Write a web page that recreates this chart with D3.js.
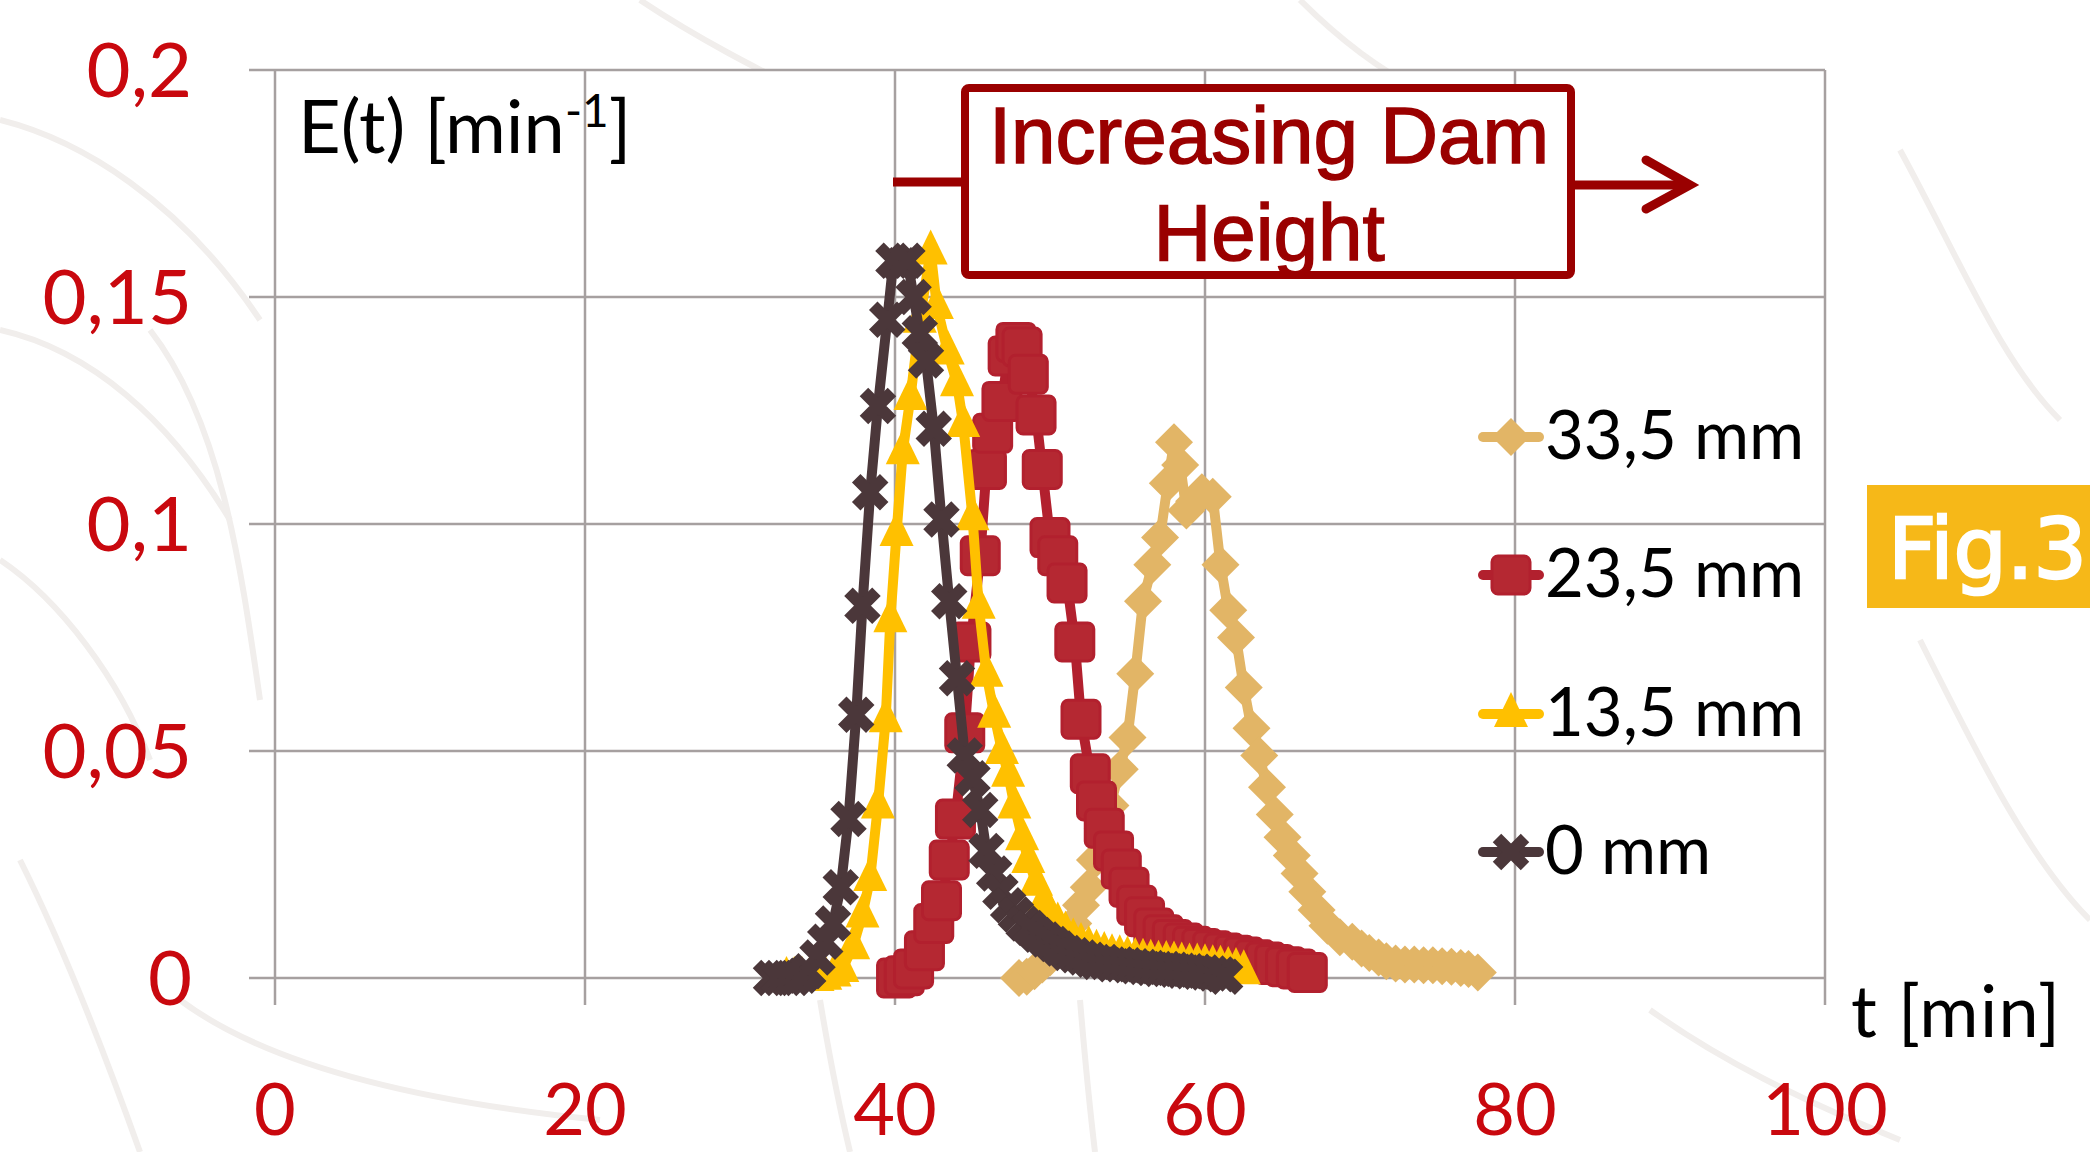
<!DOCTYPE html>
<html><head><meta charset="utf-8">
<script src="https://cdn.jsdelivr.net/npm/d3@7"></script>
<style>html,body{margin:0;padding:0;background:#fff;} svg{display:block}</style>
</head><body>
<svg id="chart" width="2090" height="1152"></svg>
<script>
// ---------- data ----------
const xTicks = [0, 20, 40, 60, 80, 100];
const xTickLabels = ["0", "20", "40", "60", "80", "100"];
const yTicks = [0, 0.05, 0.1, 0.15, 0.2];
const yTickLabels = ["0", "0,05", "0,1", "0,15", "0,2"];
const seriesNames = ["33,5 mm", "23,5 mm", "13,5 mm", "0 mm"];
const seriesColors = ["#E2B566", "#B2202E", "#FFC000", "#4B373A"];
const seriesMarkers = ["diamond", "square", "triangle", "x"];

const data33_5 = [[48.0,0],[48.5,0.0003],[49.0,0.0015],[49.5,0.003],[50.0,0.0045],[50.5,0.0065],[51.0,0.009],[51.5,0.012],[52.0,0.016],[52.5,0.020],[52.9,0.026],[53.4,0.033],[53.9,0.038],[54.5,0.046],[55.0,0.053],[55.5,0.067],[56.0,0.083],[56.6,0.091],[57.1,0.097],[57.6,0.109],[58.0,0.118],[58.4,0.113],[58.8,0.103],[59.3,0.105],[59.8,0.107],[60.5,0.106],[61.0,0.091],[61.5,0.081],[62.0,0.075],[62.5,0.064],[63.0,0.055],[63.5,0.049],[64.0,0.042],[64.5,0.036],[65.0,0.031],[65.6,0.027],[66.1,0.023],[66.6,0.019],[67.2,0.015],[67.9,0.0115],[68.7,0.009],[69.5,0.008],[70.1,0.0065],[70.6,0.0055],[71.2,0.0045],[71.7,0.0037],[72.3,0.0032],[72.9,0.003],[73.5,0.003],[74.1,0.0028],[74.7,0.0028],[75.3,0.0026],[75.9,0.0025],[76.5,0.0022],[77.0,0.002],[77.6,0.0012]];
const data23_5 = [[40.1,0],[40.6,0.0005],[41.2,0.002],[41.9,0.006],[42.5,0.012],[43.0,0.017],[43.5,0.026],[43.9,0.035],[44.5,0.054],[44.9,0.074],[45.5,0.093],[45.9,0.112],[46.3,0.120],[46.9,0.127],[47.3,0.137],[47.8,0.140],[48.2,0.139],[48.6,0.133],[49.1,0.124],[49.5,0.112],[50.0,0.097],[50.5,0.093],[51.1,0.087],[51.6,0.074],[52.0,0.057],[52.6,0.045],[53.0,0.039],[53.5,0.033],[54.1,0.028],[54.6,0.024],[55.1,0.020],[55.6,0.016],[56.1,0.0135],[56.7,0.011],[57.3,0.0095],[57.9,0.0085],[58.6,0.0077],[59.2,0.007],[59.8,0.0065],[60.5,0.006],[61.2,0.0055],[61.9,0.005],[62.5,0.0046],[63.2,0.004],[63.9,0.0035],[64.5,0.003],[65.2,0.0025],[65.9,0.002],[66.6,0.0012]];
const data13_5 = [[33.0,0],[33.5,0],[34.0,0],[34.5,0],[35.0,0],[35.5,0.0003],[36.1,0.001],[36.6,0.002],[37.3,0.007],[37.9,0.014],[38.4,0.022],[38.9,0.038],[39.4,0.057],[39.7,0.079],[40.1,0.098],[40.5,0.116],[41.0,0.128],[41.6,0.145],[42.3,0.160],[42.7,0.148],[43.4,0.138],[44.0,0.131],[44.4,0.122],[45.0,0.1015],[45.4,0.082],[45.9,0.067],[46.4,0.058],[46.9,0.050],[47.3,0.045],[47.7,0.038],[48.2,0.031],[48.6,0.026],[49.1,0.021],[49.6,0.017],[50.0,0.014],[50.5,0.012],[51.0,0.010],[51.5,0.0085],[52.0,0.0075],[52.5,0.0068],[53.0,0.006],[53.5,0.0055],[54.0,0.005],[54.5,0.0048],[55.0,0.0045],[55.5,0.0042],[56.0,0.004],[56.5,0.0038],[57.0,0.0036],[57.5,0.0035],[58.0,0.0034],[58.5,0.0032],[59.0,0.003],[59.5,0.003],[60.0,0.0028],[60.5,0.0026],[61.0,0.0025],[61.5,0.0022],[62.0,0.002],[62.5,0.0015]];
const data0 = [[32.0,0],[32.5,0],[33.0,0],[33.5,0],[34.0,0.0005],[34.4,0.0015],[35.0,0.0045],[35.5,0.008],[36.0,0.012],[36.5,0.020],[37.0,0.035],[37.5,0.058],[37.9,0.082],[38.4,0.107],[38.9,0.126],[39.5,0.145],[39.9,0.158],[40.4,0.157],[40.8,0.158],[41.2,0.150],[41.6,0.142],[42.0,0.136],[42.5,0.121],[43.0,0.101],[43.5,0.083],[44.0,0.066],[44.5,0.049],[45.0,0.044],[45.5,0.037],[45.9,0.028],[46.4,0.023],[46.8,0.019],[47.3,0.016],[47.8,0.014],[48.3,0.012],[48.7,0.011],[49.2,0.0095],[49.7,0.0085],[50.2,0.0075],[50.6,0.0065],[51.1,0.0055],[51.6,0.005],[52.1,0.0045],[52.6,0.004],[53.0,0.0035],[53.5,0.0035],[54.0,0.003],[54.5,0.003],[55.0,0.0028],[55.5,0.0026],[56.0,0.0024],[56.5,0.0022],[57.0,0.002],[57.5,0.002],[58.0,0.0018],[58.5,0.0016],[59.0,0.0015],[59.5,0.0014],[60.0,0.0012],[60.5,0.001],[61.0,0.0008],[61.3,0.0003]];
const seriesData = [data33_5, data23_5, data13_5, data0];

const yAxisTitle = "E(t) [min";
const yAxisTitleSup = "-1";
const xAxisTitle = "t [min]";
const annotationLines = ["Increasing Dam", "Height"];
const badgeText = "Fig.3";

// ---------- drawing ----------
const svg = d3.select("#chart");
const x = d3.scaleLinear().domain([0, 100]).range([275, 1825]);
const y = d3.scaleLinear().domain([0, 0.2]).range([978, 70]);

// faint background streaks (texture)
const tex = svg.append("g").attr("fill", "none").attr("stroke", "#f1eeec").attr("stroke-width", 6);
[
  "M0,120 C80,140 180,200 260,320",
  "M0,330 C90,350 170,420 230,520",
  "M0,560 C60,600 120,680 150,760",
  "M20,860 C60,940 100,1040 140,1152",
  "M150,330 C220,420 240,560 260,700",
  "M180,1000 C260,1060 400,1100 600,1120",
  "M640,0 C700,40 760,70 800,90",
  "M1300,0 C1340,40 1380,70 1420,90",
  "M1900,150 C1960,260 2000,360 2060,420",
  "M1920,640 C1980,760 2030,860 2090,920",
  "M1650,1010 C1720,1060 1800,1100 1900,1140",
  "M820,1000 C830,1060 840,1110 850,1152",
  "M1080,1000 C1085,1060 1090,1110 1095,1152"
].forEach(d => tex.append("path").attr("d", d));

// plot area
svg.append("rect").attr("x", x(0)).attr("y", y(0.2)).attr("width", x(100) - x(0)).attr("height", y(0) - y(0.2)).attr("fill", "#fff");

const grid = svg.append("g").attr("stroke", "#a6a0a0").attr("stroke-width", 2.5);
yTicks.forEach(v => grid.append("line").attr("x1", x(0) - 26).attr("x2", x(100)).attr("y1", y(v)).attr("y2", y(v)));
xTicks.forEach(v => grid.append("line").attr("x1", x(v)).attr("x2", x(v)).attr("y1", y(0.2)).attr("y2", y(0) + 27));

// tick labels
const labelFont = "Lato, 'Open Sans', sans-serif";
svg.append("g").selectAll("text").data(yTicks).join("text")
  .attr("x", 192).attr("y", d => y(d) + 27).attr("text-anchor", "end")
  .attr("font-family", labelFont).attr("font-size", 76).attr("fill", "#C9080E")
  .text((d, i) => yTickLabels[i]);
svg.append("g").selectAll("text").data(xTicks).join("text")
  .attr("x", d => x(d)).attr("y", 1135).attr("text-anchor", "middle")
  .attr("font-family", labelFont).attr("font-size", 72).attr("fill", "#C9080E")
  .text((d, i) => xTickLabels[i]);

// axis titles
const yt = svg.append("text").attr("x", 298).attr("y", 153).attr("font-family", labelFont).attr("font-size", 74).attr("fill", "#000");
yt.append("tspan").text(yAxisTitle);
yt.append("tspan").attr("font-size", 46).attr("dy", -26).text(yAxisTitleSup);
yt.append("tspan").attr("dy", 26).text("]");
svg.append("text").attr("x", 1851).attr("y", 1037).attr("font-family", labelFont).attr("font-size", 72)
  .attr("textLength", 209).attr("lengthAdjust", "spacing").attr("fill", "#000").text(xAxisTitle);

// markers
function drawMarker(g, type, color) {
  if (type === "diamond") {
    g.append("path").attr("d", "M0,-19L19,0L0,19L-19,0Z").attr("fill", color);
  } else if (type === "square") {
    g.append("rect").attr("x", -19).attr("y", -19).attr("width", 38).attr("height", 38).attr("rx", 6)
      .attr("fill", "#B52832").attr("stroke", color).attr("stroke-width", 3);
  } else if (type === "triangle") {
    g.append("path").attr("d", "M0,-22L17,13L-17,13Z").attr("fill", color);
  } else {
    g.append("path").attr("d", "M-14,-14L14,14M-14,14L14,-14").attr("stroke", color).attr("stroke-width", 12).attr("fill", "none");
  }
}

const line = d3.line().x(d => x(d[0])).y(d => y(d[1]));
seriesData.forEach((data, i) => {
  const g = svg.append("g");
  g.append("path").datum(data).attr("d", line).attr("fill", "none")
    .attr("stroke", seriesColors[i]).attr("stroke-width", 10)
    .attr("stroke-linejoin", "round").attr("stroke-linecap", "round");
  data.forEach(d => {
    const m = g.append("g").attr("transform", `translate(${x(d[0])},${y(d[1])})`);
    drawMarker(m, seriesMarkers[i], seriesColors[i]);
  });
});

// legend
const legendRows = [437, 575, 714, 852];
seriesNames.forEach((name, i) => {
  const g = svg.append("g").attr("transform", `translate(0,${legendRows[i]})`);
  g.append("line").attr("x1", 1483).attr("x2", 1539).attr("y1", 0).attr("y2", 0)
    .attr("stroke", seriesColors[i]).attr("stroke-width", 10).attr("stroke-linecap", "round");
  const m = g.append("g").attr("transform", "translate(1511,0)");
  drawMarker(m, seriesMarkers[i], seriesColors[i]);
  g.append("text").attr("x", 1545).attr("y", 22).attr("font-family", labelFont).attr("font-size", 67)
    .attr("fill", "#000").text(name);
});

// annotation box with arrow
const dark = "#9A0000";
const ann = svg.append("g");
ann.append("line").attr("x1", 893).attr("x2", 962).attr("y1", 182).attr("y2", 182).attr("stroke", dark).attr("stroke-width", 9);
ann.append("line").attr("x1", 1574).attr("x2", 1688).attr("y1", 185).attr("y2", 185).attr("stroke", dark).attr("stroke-width", 9);
ann.append("path").attr("d", "M1646,160L1690,185L1646,209").attr("fill", "none").attr("stroke", dark)
  .attr("stroke-width", 9).attr("stroke-linecap", "round").attr("stroke-linejoin", "miter");
ann.append("rect").attr("x", 965).attr("y", 88).attr("width", 606).attr("height", 187).attr("rx", 4)
  .attr("fill", "#fff").attr("stroke", dark).attr("stroke-width", 8);
annotationLines.forEach((t, i) => {
  ann.append("text").attr("x", 1269).attr("y", i === 0 ? 163 : 260).attr("text-anchor", "middle")
    .attr("font-family", "'Liberation Sans', Arial, sans-serif").attr("font-size", 80)
    .attr("fill", dark).attr("stroke", dark).attr("stroke-width", 1.5).text(t);
});

// badge
svg.append("rect").attr("x", 1867).attr("y", 485).attr("width", 230).attr("height", 123).attr("fill", "#F6B818");
svg.append("text").attr("x", 1888).attr("y", 578).attr("font-family", "'DejaVu Sans', sans-serif").attr("font-size", 84)
  .attr("fill", "#fff").attr("stroke", "#fff").attr("stroke-width", 2.5).text(badgeText);
</script>
</body></html>
